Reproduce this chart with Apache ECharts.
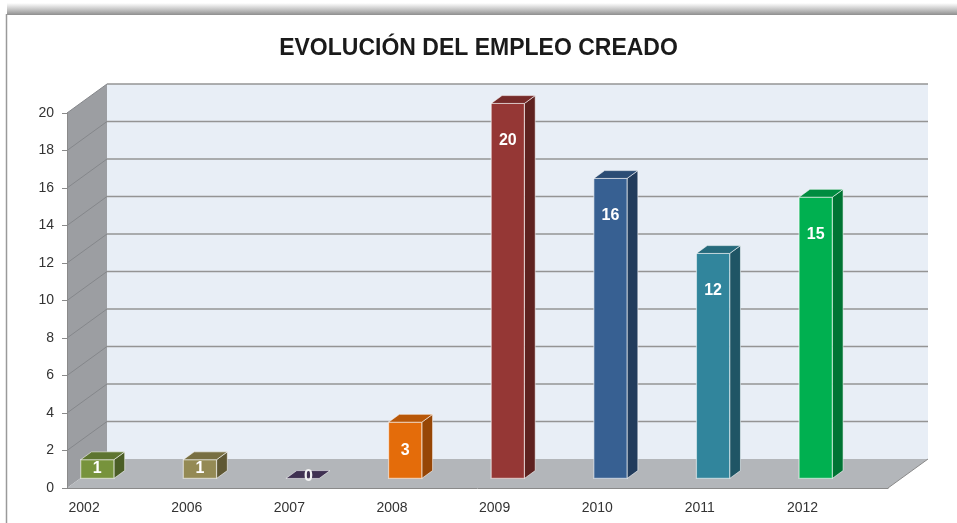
<!DOCTYPE html>
<html>
<head>
<meta charset="utf-8">
<script src="https://cdn.jsdelivr.net/npm/echarts@6/dist/echarts.min.js"></script>
<style>
html, body { margin: 0; padding: 0; background: #fff; }
#ch1 { width: 957px; height: 523px; }
</style>
</head>
<body>
<div id="ch1"></div>
<script>
// datos
var years = ['2002', '2006', '2007', '2008', '2009', '2010', '2011', '2012'];
var empleo = [1, 1, 0, 3, 20, 16, 12, 15];
var yTicks = [0, 2, 4, 6, 8, 10, 12, 14, 16, 18, 20];

// colores: [frente, tapa, lateral]
var barColors = [
  ['#77933C', '#5E7530', '#4B5E26'],
  ['#948A54', '#786F42', '#5F5834'],
  ['#403152', '#403152', '#32263F'],
  ['#E46C0A', '#B85708', '#964606'],
  ['#953735', '#762B2A', '#5E2220'],
  ['#376092', '#2B4C74', '#223C5C'],
  ['#31859C', '#266A7C', '#1F5565'],
  ['#00B050', '#008C40', '#007434']
];

// profundidad 3D
var DX = 40, DY = -29;
var D0 = 0.33, D1 = 0.6;

// 3 huecos por año (las marcas del eje van cada tercio)
var slots = [];
years.forEach(function (y) { slots.push(y, '', ''); });
var barData = empleo.map(function (v, i) { return [i * 3, v, i]; });

window.onload = function () {
  var ch1 = echarts.init(document.getElementById('ch1'));

  function renderFrame(params, api) {
    var cs = params.coordSys;
    var L = cs.x, R = cs.x + cs.width;
    var y0 = api.coord([0, 0])[1];
    var yTop = api.coord([0, yTicks[yTicks.length - 1]])[1];
    var kids = [];
    // pared izquierda
    kids.push({
      type: 'polygon',
      shape: { points: [[L, yTop], [L + DX, yTop + DY], [L + DX, y0 + DY], [L, y0]] },
      style: { fill: '#9C9EA2' }
    });
    // pared del fondo
    kids.push({
      type: 'rect',
      shape: { x: L + DX, y: yTop + DY, width: R - L, height: y0 - yTop },
      style: { fill: '#E8EEF6' }
    });
    // suelo
    kids.push({
      type: 'polygon',
      shape: { points: [[L, y0], [L + DX, y0 + DY], [R + DX, y0 + DY], [R, y0]] },
      style: { fill: '#B3B6BA' }
    });
    yTicks.forEach(function (t) {
      if (t === 0) return;
      var y = api.coord([0, t])[1];
      kids.push({
        type: 'line',
        shape: { x1: L + DX, y1: y + DY, x2: R + DX, y2: y + DY },
        style: { stroke: '#949494', lineWidth: 1.6 }
      });
      kids.push({
        type: 'line',
        shape: { x1: L, y1: y, x2: L + DX, y2: y + DY },
        style: { stroke: '#85878B', lineWidth: 1 }
      });
    });
    kids.push({
      type: 'line',
      shape: { x1: R, y1: y0, x2: R + DX, y2: y0 + DY },
      style: { stroke: '#8A8A8A', lineWidth: 1 }
    });
    return { type: 'group', children: kids };
  }

  function renderBar(params, api) {
    var slot = api.value(0), v = api.value(1), k = api.value(2);
    var top = api.coord([slot, v]);
    var base = api.coord([slot, 0]);
    var w = api.size([1, 0])[0] - 1;
    var x0 = top[0] - w / 2 + DX * D0, x1 = x0 + w;
    var yt = top[1] + DY * D0, yb = base[1] + DY * D0;
    var ex = DX * (D1 - D0), ey = DY * (D1 - D0);
    var c = barColors[k];
    var edge = 'rgba(255,255,255,0.55)';
    var kids = [];
    if (v > 0) {
      kids.push({
        type: 'polygon',
        shape: { points: [[x1, yt], [x1 + ex, yt + ey], [x1 + ex, yb + ey], [x1, yb]] },
        style: { fill: c[2], stroke: edge, lineWidth: 1 }
      });
      kids.push({
        type: 'rect',
        shape: { x: x0, y: yt, width: w, height: yb - yt },
        style: { fill: c[0], stroke: edge, lineWidth: 1.2 }
      });
    }
    kids.push({
      type: 'polygon',
      shape: { points: [[x0, yt], [x1, yt], [x1 + ex, yt + ey], [x0 + ex, yt + ey]] },
      style: { fill: c[1], stroke: edge, lineWidth: 1 }
    });
    var ly = v > 0 ? Math.min(yt + 37, (yt + yb) / 2) : yt - 2;
    kids.push({
      type: 'text',
      style: {
        text: String(v), x: (x0 + x1) / 2 + (v > 0 ? 0 : 6), y: ly,
        fill: v > 0 ? '#FFFFFF' : '#F2F2F2',
        font: 'bold 16px "Liberation Sans", Arial, sans-serif',
        align: 'center', verticalAlign: 'middle'
      }
    });
    return { type: 'group', children: kids };
  }

  var op1 = {
    backgroundColor: '#fff',
    animation: false,
    title: {
      text: 'EVOLUCIÓN DEL EMPLEO CREADO',
      left: 'center',
      top: 32,
      textStyle: {
        fontFamily: '"Liberation Sans", Arial, sans-serif',
        fontSize: 23,
        fontWeight: 'bold',
        color: '#1A1A1A'
      }
    },
    graphic: [{
      type: 'rect',
      shape: { x: 7, y: 3, width: 950, height: 12 },
      style: {
        fill: new echarts.graphic.LinearGradient(0, 0, 0, 1, [
          { offset: 0, color: 'rgba(150,150,150,0)' },
          { offset: 1, color: '#8E8E8E' }
        ])
      },
      z: -10
    }, {
      type: 'line',
      shape: { x1: 6.5, y1: 14, x2: 6.5, y2: 523 },
      style: { stroke: '#9A9A9A', lineWidth: 1.5 },
      z: -10
    }],
    grid: { left: 67, right: 69, top: 113, bottom: 35 },
    xAxis: {
      type: 'category',
      data: slots,
      boundaryGap: true,
      axisLine: { lineStyle: { color: '#8A8A8A', width: 1 } },
      axisTick: { interval: 0, length: 6, lineStyle: { color: '#8A8A8A' } },
      axisLabel: { interval: 0, fontSize: 14, color: '#333', margin: 13,
        fontFamily: '"Liberation Sans", Arial, sans-serif' },
      splitLine: { show: false }
    },
    yAxis: {
      type: 'value',
      min: 0,
      max: 20,
      interval: 2,
      axisLine: { show: true, lineStyle: { color: '#8A8A8A', width: 1 } },
      axisTick: { show: true, length: 5, lineStyle: { color: '#8A8A8A' } },
      axisLabel: { fontSize: 14, color: '#333', margin: 13,
        fontFamily: '"Liberation Sans", Arial, sans-serif' },
      splitLine: { show: false }
    },
    series: [{
      type: 'custom',
      silent: true,
      z: -1,
      renderItem: renderFrame,
      data: [[0, 0]]
    }, {
      type: 'custom',
      z: 3,
      renderItem: renderBar,
      encode: { x: 0, y: 1 },
      data: barData
    }]
  };

  ch1.setOption(op1);
};
</script>
</body>
</html>
